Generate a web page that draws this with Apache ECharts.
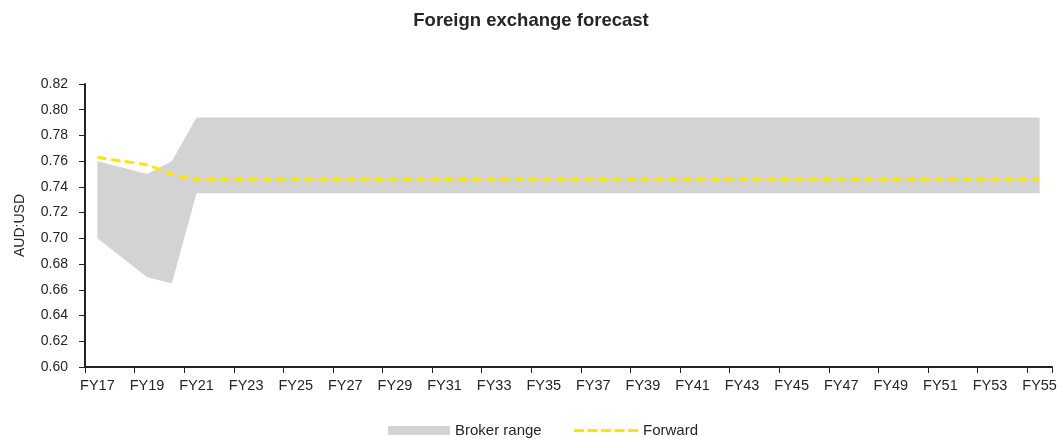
<!DOCTYPE html>
<html><head><meta charset="utf-8">
<script src="https://cdn.jsdelivr.net/npm/echarts@6/dist/echarts.min.js"></script>
<style>html,body{margin:0;padding:0;background:#fff}#c{width:1062px;height:438px}</style>
</head><body><div id="c"></div>
<script>
const categories = [];
for (let y = 17; y <= 55; y++) categories.push('FY' + y);
const brokerLow  = [0.700,0.685,0.670,0.665,0.735,0.735,0.735,0.735,0.735,0.735,0.735,0.735,0.735,0.735,0.735,0.735,0.735,0.735,0.735,0.735,0.735,0.735,0.735,0.735,0.735,0.735,0.735,0.735,0.735,0.735,0.735,0.735,0.735,0.735,0.735,0.735,0.735,0.735,0.735];
const brokerHigh = [0.760,0.755,0.750,0.760,0.794,0.794,0.794,0.794,0.794,0.794,0.794,0.794,0.794,0.794,0.794,0.794,0.794,0.794,0.794,0.794,0.794,0.794,0.794,0.794,0.794,0.794,0.794,0.794,0.794,0.794,0.794,0.794,0.794,0.794,0.794,0.794,0.794,0.794,0.794];
const forward    = [0.763,0.760,0.757,0.750,0.746,0.746,0.746,0.746,0.746,0.746,0.746,0.746,0.746,0.746,0.746,0.746,0.746,0.746,0.746,0.746,0.746,0.746,0.746,0.746,0.746,0.746,0.746,0.746,0.746,0.746,0.746,0.746,0.746,0.746,0.746,0.746,0.746,0.746,0.746];
const yTicks = {min:0.60, max:0.82, interval:0.02};

const brokerSpan = brokerHigh.map((v,i)=>+(v-brokerLow[i]).toFixed(4));
const font = '"Liberation Sans", Arial, sans-serif';
const txt = '#262626';
const dashIcon = 'path://M0,0h10v3h-10z M13.5,0h10v3h-10z M27,0h10v3h-10z M40.5,0h10v3h-10z M54,0h10v3h-10z';
const chart = echarts.init(document.getElementById('c'), null, {renderer:'canvas'});
chart.setOption({
  animation:false,
  title:{text:'Foreign exchange forecast', left:'center', top:6,
    textStyle:{fontFamily:font, fontSize:18.5, fontWeight:'bold', color:txt}},
  grid:{left:85, right:10, top:84, bottom:71, containLabel:false},
  legend:[
    {data:['Broker range'], left:383, top:418, itemWidth:62, itemHeight:9, itemGap:6,
     icon:'rect', textStyle:{fontFamily:font, fontSize:15, color:txt}},
    {data:[{name:'Forward', icon:dashIcon}], left:569, top:418, itemWidth:64, itemHeight:3, itemGap:6,
     textStyle:{fontFamily:font, fontSize:15, color:txt}}
  ],
  xAxis:{type:'category', data:categories, boundaryGap:true,
    axisLine:{lineStyle:{color:'#222', width:2}},
    axisTick:{show:true, interval:1, length:6, lineStyle:{color:'#222', width:1}},
    axisLabel:{interval:1, fontFamily:font, fontSize:14.5, color:txt, margin:11}},
  yAxis:{type:'value', min:yTicks.min, max:yTicks.max, interval:yTicks.interval,
    name:'AUD:USD', nameLocation:'middle', nameGap:58, nameRotate:90,
    nameTextStyle:{fontFamily:font, fontSize:14, color:txt},
    axisLine:{show:true, lineStyle:{color:'#222', width:2}},
    axisTick:{show:true, length:6, lineStyle:{color:'#222', width:1}},
    splitLine:{show:false},
    axisLabel:{fontFamily:font, fontSize:14, color:txt, margin:17,
      formatter:v=>v.toFixed(2)}},
  series:[
    {name:'low', type:'line', stack:'b', data:brokerLow, symbol:'none',
     lineStyle:{opacity:0}, silent:true},
    {name:'Broker range', type:'line', stack:'b', data:brokerSpan, symbol:'none',
     lineStyle:{opacity:0, width:0}, itemStyle:{color:'#d3d3d3'},
     areaStyle:{color:'#d3d3d3', opacity:1}},
    {name:'Forward', type:'line', data:forward, symbol:'none', smooth:0.3,
     itemStyle:{color:'#ffe600'},
     lineStyle:{color:'#ffe600', width:3, type:[9,5]}}
  ]
});
</script></body></html>
